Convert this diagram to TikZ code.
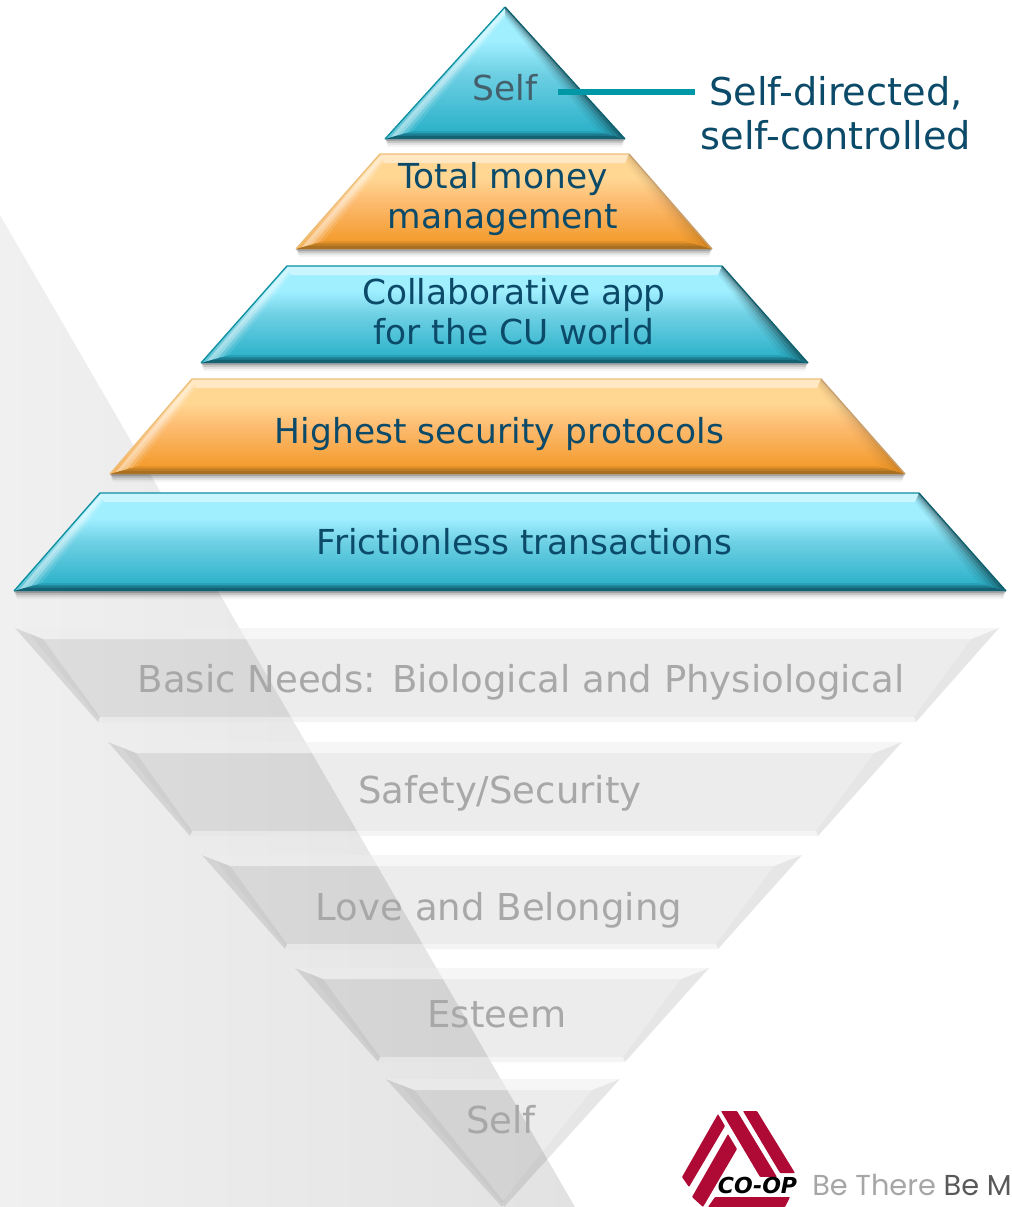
\documentclass[tikz,border=0pt]{standalone}
\usepackage{fontspec}
\setmainfont{DejaVu Sans}
\newfontfamily\slogfont{Poppins}
\usetikzlibrary{calc}
\definecolor{navy}{HTML}{0B4A68}
\definecolor{selfgray}{HTML}{44606C}
\definecolor{tealline}{HTML}{0097A7}
\definecolor{ghost}{HTML}{A8A8A8}
\definecolor{coopred}{HTML}{AE0A35}
\definecolor{bgA}{HTML}{F1F0F0}
\definecolor{bgB}{HTML}{E3E2E2}
\definecolor{tealtop}{HTML}{9FEFFF}
\definecolor{tealmid}{HTML}{6FD0E4}
\definecolor{tealbot}{HTML}{2CB2CA}
\definecolor{tealL}{HTML}{0E8FA0}
\definecolor{tealR}{HTML}{0C5F6C}
\definecolor{tealB}{HTML}{12596A}
\definecolor{ortop}{HTML}{FFD692}
\definecolor{ormid}{HTML}{FDBB70}
\definecolor{orbot}{HTML}{F39A2A}
\definecolor{orL}{HTML}{EDBE78}
\definecolor{orR}{HTML}{C8A070}
\definecolor{orB}{HTML}{A06C20}
\pgfdeclareverticalshading{tealsh}{100bp}{color(0bp)=(tealbot); color(28bp)=(tealbot); color(50bp)=(tealmid); color(62bp)=(tealtop); color(100bp)=(tealtop)}
\pgfdeclareverticalshading{orsh}{100bp}{color(0bp)=(orbot); color(28bp)=(orbot); color(50bp)=(ormid); color(62bp)=(ortop); color(100bp)=(ortop)}
\tikzset{
  x=0.75pt,y=-0.75pt,
  lab/.style={text=navy,font=\fontsize{25.8}{30}\selectfont,align=center,inner sep=0pt},
  ghostlab/.style={text=ghost,font=\fontsize{27.8}{30}\selectfont,align=center,inner sep=0pt},
  bandred/.style={fill=coopred,draw=none,rounded corners=0.6pt},
}
\newcommand{\bevB}{tealB}
\newcommand{\rscale}{1}
\newcommand{\insx}{4}
\newcommand{\insy}{9}
% #1 TL #2 TR #3 BR #4 BL #5 shading #6 edgeL #7 edgeR
\newcommand{\bev}[7]{%
  \coordinate (TL) at #1; \coordinate (TR) at #2; \coordinate (BR) at #3; \coordinate (BL) at #4;
  \coordinate (iBL) at ($(BL)+(28,-8)$); \coordinate (iBR) at ($(BR)+(-28,-8)$);
  \coordinate (iTL) at ($(TL)+(\insx,\insy)$); \coordinate (iTR) at ($(TR)+(-\insx,\insy)$);
  \foreach \d/\o in {8/.04,6/.07,4/.12,2/.18}{
    \fill[black,opacity=\o] (BL) -- (BR) -- ($(BR)+(-3,\d)$) -- ($(BL)+(3,\d)$) -- cycle;}
  \shade[shading=#5] (TL) -- (TR) -- (BR) -- (BL) -- cycle;
  \fill[white,opacity=.45] (TL) -- (TR) -- (iTR) -- (iTL) -- cycle;
  \foreach \a/\b/\o in {0/.2/.25,.2/.4/.55,.4/.6/.45,.6/.8/.25,.8/1/.1}{
    \fill[white,opacity=\o] ($(TL)!\a!(iTL)$) -- ($(TL)!\b!(iTL)$) -- ($(BL)!\b!(iBL)$) -- ($(BL)!\a!(iBL)$) -- cycle;}
  \foreach \a/\b/\o in {0/.2/.4,.2/.4/.28,.4/.6/.17,.6/.8/.09,.8/1/.04}{
    \pgfmathsetmacro{\oo}{\o*\rscale}
    \fill[black,opacity=\oo] ($(TR)!\a!(iTR)$) -- ($(TR)!\b!(iTR)$) -- ($(BR)!\b!(iBR)$) -- ($(BR)!\a!(iBR)$) -- cycle;}
  \foreach \a/\b/\o in {0/.4/.9,.4/.7/.6,.7/1/.2}{
    \fill[\bevB,opacity=\o] ($(BL)!\a!(iBL)$) -- ($(BL)!\b!(iBL)$) -- ($(BR)!\b!(iBR)$) -- ($(BR)!\a!(iBR)$) -- cycle;}
  \draw[#6,line width=1pt] (BL) -- (TL) -- (TR);
  \draw[#7,line width=1pt] (TR) -- (BR);
}
\newcommand{\tealbar}[4]{\renewcommand{\bevB}{tealB}\renewcommand{\rscale}{1}\bev{#1}{#2}{#3}{#4}{tealsh}{tealL}{tealR}}
\newcommand{\orangebar}[4]{\renewcommand{\bevB}{orB}\renewcommand{\rscale}{.3}\bev{#1}{#2}{#3}{#4}{orsh}{orL}{orR}}
\newcommand{\ghostbar}[4]{%
  \fill[black,opacity=.075] #1 -- #2 -- #3 -- #4 -- cycle;
  \fill[white,opacity=.5] #1 -- #2 -- ($#2+(-28,11)$) -- ($#1+(28,11)$) -- cycle;
  \fill[white,opacity=.4] #4 -- #3 -- ($#3+(-2,-5)$) -- ($#4+(2,-5)$) -- cycle;
  \fill[black,opacity=.025] #1 -- ($#1+(28,11)$) -- ($#4+(2,-5)$) -- #4 -- cycle;
  \fill[black,opacity=.025] ($#1!.5!($#1+(28,11)$)$) -- ($#1+(28,11)$) -- ($#4+(2,-5)$) -- ($#4!.5!($#4+(2,-5)$)$) -- cycle;
  \fill[black,opacity=.025] #2 -- ($#2+(-28,11)$) -- ($#3+(-2,-5)$) -- #3 -- cycle;
}
\begin{document}
\begin{tikzpicture}
\useasboundingbox (0,0) rectangle (1012,1207);
\clip (0,0) rectangle (1012,1207);
\shade[left color=bgA,right color=bgB] (0,215) -- (575,1207) -- (0,1207) -- cycle;
% upper pyramid
\renewcommand{\insx}{0}\renewcommand{\insy}{11}
\tealbar{(505,7)}{(505,7)}{(625,139)}{(385,139)}
\renewcommand{\insx}{4}\renewcommand{\insy}{9}
\orangebar{(380,154)}{(629,154)}{(712,249)}{(296,249)}
\tealbar{(287,266)}{(722,266)}{(808,363)}{(201,363)}
\orangebar{(192,379)}{(821,379)}{(905,474)}{(110,474)}
\tealbar{(100,493)}{(919,493)}{(1006,591)}{(14,591)}
% lower pyramid
\ghostbar{(15,628)}{(999,628)}{(916,722)}{(98,722)}
\ghostbar{(108,742)}{(902,742)}{(818,836)}{(190,836)}
\ghostbar{(202,855)}{(802,855)}{(718,949)}{(285,949)}
\ghostbar{(295,968)}{(709,968)}{(625,1062)}{(378,1062)}
\ghostbar{(386,1079)}{(620,1079)}{(504,1207)}{(502,1207)}
% labels
\node[lab,text=selfgray] (self) at (505,88) {Self};
\node[lab] (money) at (503,199.5) {Total money\\management};
\node[lab] (collab) at (514,311.5) {Collaborative app\\for the CU world};
\node[lab] (high) at (499.5,434) {Highest security protocols};
\node[lab] (fric) at (524.5,542) {Frictionless transactions};
\node[lab,font=\fontsize{28.7}{33}\selectfont] (sd) at (836,113.5) {Self-directed,\\self-controlled};
\node[ghostlab] (g1) at (521,682) {Basic Needs: Biological and Physiological};
\node[ghostlab] (g2) at (500,793) {Safety/Security};
\node[ghostlab] (g3) at (499,910) {Love and Belonging};
\node[ghostlab] (g4) at (497,1014) {Esteem};
\node[ghostlab] (g5) at (501,1120) {Self};
\coordinate (selfend) at (558,92);
\coordinate (sdend) at (695,92);
\draw[tealline,line width=4pt] (selfend) -- (sdend);
% logo
\fill[bandred] (718,1114) -- (725,1126) -- (689,1187) -- (682,1177) -- cycle;
\fill[bandred] (728,1134) -- (737,1149) -- (703,1207) -- (692,1197) -- cycle;
\fill[bandred] (721,1111) -- (737,1111) -- (777,1177) -- (760,1177) -- cycle;
\fill[bandred] (743,1111) -- (757,1111) -- (795,1173) -- (780,1173) -- cycle;
\fill[bandred] (715,1197) -- (790,1197) -- (785,1207) -- (708,1207) -- cycle;
\fill[white] (725,1177) -- (798,1177) -- (793,1195) -- (713,1195) -- cycle;
\node[text=black,font=\bfseries\itshape\fontsize{16.5}{16.5}\selectfont,inner sep=0pt] (coop) at (757.5,1185) {CO-OP};
\node[text=black!35,font=\slogfont\fontsize{21.6}{22}\selectfont,inner sep=0pt,anchor=west] (slog) at (812,1185) {Be There \textcolor{black!65}{Be Mo}};
\end{tikzpicture}
\end{document}
